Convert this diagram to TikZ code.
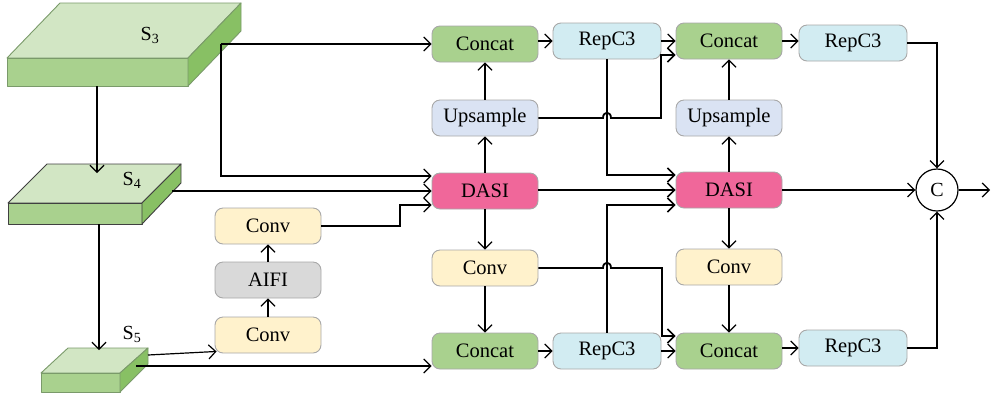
\documentclass[tikz,border=0pt]{standalone}
\usepackage{fontspec}
\setmainfont{Liberation Serif}
\usetikzlibrary{arrows.meta,calc}
\definecolor{cgreen}{HTML}{A9D18E}
\definecolor{ccyan}{HTML}{D2ECF2}
\definecolor{cblue}{HTML}{DAE3F3}
\definecolor{cpink}{HTML}{F0679A}
\definecolor{cyell}{HTML}{FFF2CC}
\definecolor{cgray}{HTML}{D9D9D9}
\definecolor{sltop}{HTML}{D2E6C4}
\definecolor{slfront}{HTML}{A9D18E}
\definecolor{slside}{HTML}{88C064}
\definecolor{sledge}{HTML}{7A9A6A}
\definecolor{boxedge}{HTML}{A8A8A8}
\tikzset{
  blk/.style={draw=boxedge,line width=0.9pt,rounded corners=8pt,
    minimum width=106pt,minimum height=36pt,inner sep=0pt,
    font=\fontsize{20.5}{23}\selectfont},
  ccat/.style={blk,fill=cgreen},
  rep/.style={blk,fill=ccyan,minimum width=108pt},
  ups/.style={blk,fill=cblue},
  dasi/.style={blk,fill=cpink},
  cnv/.style={blk,fill=cyell},
  aifi/.style={blk,fill=cgray},
  arr/.style={line width=1.2pt,-{Straight Barb[length=7pt,width=14pt,line width=1.2pt]}},
  arrt/.style={line width=1.8pt,-{Straight Barb[length=7pt,width=14pt,line width=1.6pt]}},
  slab/.style={line width=0.9pt,draw=sledge,line join=round},
  lbl/.style={font=\fontsize{20}{23}\selectfont,inner sep=0pt}
}
\begin{document}
\begin{tikzpicture}[x=1pt,y=-1pt]
\useasboundingbox (0,0) rectangle (993,392);

% feature maps drawn as slabs
\filldraw[slab,fill=sltop]   (60,3) -- (241,3) -- (188,58) -- (7,58) -- cycle;
\filldraw[slab,fill=slfront] (7,58) -- (188,58) -- (188,86) -- (7,86) -- cycle;
\filldraw[slab,fill=slside]  (188,58) -- (241,3) -- (241,31) -- (188,86) -- cycle;
\node[lbl] (s3) at (150,35) {S\textsubscript{3}};

\filldraw[slab,draw=black!75,fill=sltop]   (47,164) -- (181,164) -- (142,203) -- (8,203) -- cycle;
\filldraw[slab,draw=black!75,fill=slfront] (8,203) -- (142,203) -- (142,224) -- (8,224) -- cycle;
\filldraw[slab,draw=black!75,fill=slside]  (142,203) -- (181,164) -- (181,183) -- (142,224) -- cycle;
\node[lbl] (s4) at (132,180) {S\textsubscript{4}};

\filldraw[slab,fill=sltop]   (68,348) -- (148,348) -- (120,373) -- (41,373) -- cycle;
\filldraw[slab,fill=slfront] (41,373) -- (120,373) -- (120,392) -- (41,392) -- cycle;
\filldraw[slab,fill=slside]  (120,373) -- (148,348) -- (148,364) -- (120,392) -- cycle;
\node[lbl] (s5) at (132,334) {S\textsubscript{5}};

% attachment points on the slabs
\coordinate (s3bot) at (97,86);
\coordinate (s4top) at (97,173);
\coordinate (s3out) at (221,44);
\coordinate (s4out) at (172,191);
\coordinate (s4bot) at (99,224);
\coordinate (s5top) at (99,350);
\coordinate (s5a) at (148,355);
\coordinate (s5b) at (136,366);

% blocks
\node[cnv]  (cvt) at (268,226) {Conv};
\node[aifi] (aif) at (268,280) {AIFI};
\node[cnv]  (cvb) at (268,335) {Conv};

\node[ccat] (cc1) at (485,44) {Concat};
\node[ups]  (up1) at (485,118) {Upsample};
\node[dasi] (ds1) at (485,191) {DASI};
\node[cnv]  (cv1) at (485,268) {Conv};
\node[ccat] (cb1) at (485,351) {Concat};

\node[rep]  (rp1) at (607,41) {RepC3};
\node[rep]  (rb1) at (607,351) {RepC3};

\node[ccat] (cc2) at (729,41) {Concat};
\node[ups]  (up2) at (729,118) {Upsample};
\node[dasi] (ds2) at (729,190) {DASI};
\node[cnv]  (cv2) at (729,267) {Conv};
\node[ccat] (cb2) at (729,351) {Concat};

\node[rep]  (rp2) at (853,43) {RepC3};
\node[rep]  (rb2) at (853,348) {RepC3};

\node[draw,circle,line width=1.2pt,minimum size=42pt,inner sep=0pt,lbl] (cat) at (937,190) {C};
\coordinate (out) at (990,190);

% backbone links
\draw[arr] (s3bot) -- (s4top);
\draw[arr] (s4bot) -- (s5top);
\draw[arr] (s3out) -- (s3out -| cc1.west);
\draw[arr] (s3out) -- (s3out |- {$(ds1.west)+(0,-15)$}) -- ($(ds1.west)+(0,-15)$);
\draw[arr] (s4out) -- (s4out -| ds1.west);
\draw[arr] (s5a) -- ($(cvb.south west)+(2,-2)$);
\draw[arr] (s5b) -- (s5b -| cb1.west);

% AIFI branch
\draw[arr] (cvb.north) -- (aif.south);
\draw[arr] (aif.north) -- (cvt.south);
\draw[arr] (cvt.east) -- (400,226) -- (400,205) -- ($(ds1.west)+(0,14)$);

% first column
\draw[arr] (ds1.north) -- (up1.south);
\draw[arr] (up1.north) -- (cc1.south);
\draw[arr] (ds1.south) -- (cv1.north);
\draw[arr] (cv1.south) -- (cb1.north);
\draw[arr] (cc1.east |- rp1.west) -- (rp1.west);
\draw[arr] (cb1.east) -- (rb1.west);

% cross links between the two columns
\draw[arr] (rp1.east) -- (cc2.west);
\draw[arrt] (up1.east) -- (603,118) .. controls (603,111) and (611,111) .. (611,118)
  -- (661,118) -- (661,55) -- ($(cc2.west)+(0,14)$);
\draw[arrt] (rp1.south) -- (607,175) -- ($(ds2.west)+(0,-15)$);
\draw[arrt] (ds1.east |- ds2.west) -- (ds2.west);
\draw[arrt] (rb1.north) -- (607,205) -- ($(ds2.west)+(0,15)$);
\draw[arrt] (cv1.east) -- (603,268) .. controls (603,261) and (611,261) .. (611,268)
  -- (662,268) -- (662,336) -- ($(cb2.west)+(0,-15)$);
\draw[arr] (rb1.east) -- (cb2.west);

% second column
\draw[arr] (ds2.north) -- (up2.south);
\draw[arr] (up2.north) -- (cc2.south);
\draw[arr] (ds2.south) -- (cv2.north);
\draw[arr] (cv2.south) -- (cb2.north);
\draw[arr] (cc2.east) -- (rp2.west |- cc2.east);
\draw[arr] (cb2.east |- rb2.west) -- (rb2.west);

% output fusion
\draw[arr] (rp2.east) -- (rp2.east -| cat.north) -- (cat.north);
\draw[arr] (rb2.east) -- (rb2.east -| cat.south) -- (cat.south);
\draw[arr] (ds2.east) -- (cat.west);
\draw[arr] (cat.east) -- (out);
\end{tikzpicture}
\end{document}
